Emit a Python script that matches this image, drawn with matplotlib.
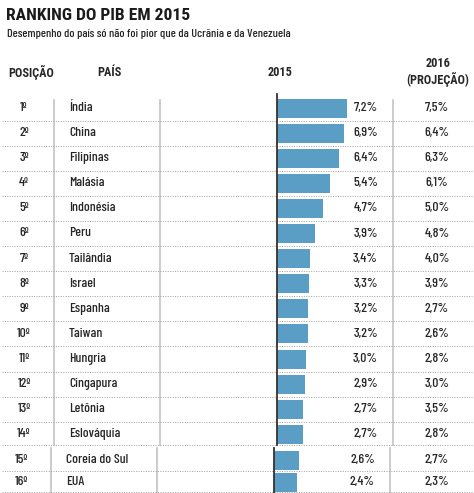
import matplotlib
matplotlib.use("Agg")
import matplotlib.pyplot as plt
from matplotlib import font_manager

# dados
posicoes = ["1º", "2º", "3º", "4º", "5º", "6º", "7º", "8º", "9º", "10º",
            "11º", "12º", "13º", "14º", "15º", "16º"]
paises = ["Índia", "China", "Filipinas", "Malásia", "Indonésia", "Peru",
          "Tailândia", "Israel", "Espanha", "Taiwan", "Hungria", "Cingapura",
          "Letônia", "Eslováquia", "Coreia do Sul", "EUA"]
pib_2015 = [7.2, 6.9, 6.4, 5.4, 4.7, 3.9, 3.4, 3.3, 3.2, 3.2, 3.0, 2.9,
            2.7, 2.7, 2.6, 2.4]
proj_2016 = [7.5, 6.4, 6.3, 6.1, 5.0, 4.8, 4.0, 3.9, 2.7, 2.6, 2.8, 3.0,
             3.5, 2.8, 2.7, 2.3]

# fontes condensadas, a primeira que existir
names = {f.name for f in font_manager.fontManager.ttflist}
fonte = next(c for c in ["Roboto Condensed", "Archivo Narrow", "DejaVu Sans"]
             if c in names)
estreita = next((c for c in ["Barlow Condensed", "Fira Sans Extra Condensed",
                             "Saira Extra Condensed"] if c in names), fonte)
plt.rcParams["font.family"] = [fonte, "DejaVu Sans"]
CORPO = [estreita, fonte, "DejaVu Sans"]

TXT = "#262626"
BAR = "#5a9ec6"
VGRID = "#c4c4c4"
DOT = "#a0a0a0"

W, H = 474, 493
fig = plt.figure(figsize=(W / 100, H / 100), dpi=100)
ax = fig.add_axes([0, 0, 1, 1])
ax.set_xlim(0, W)
ax.set_ylim(H, 0)
ax.axis("off")

# posicoes das linhas (layout)
ys = [108 + 25.1 * i for i in range(14)] + [460, 482]
PX_PCT = 9.75


def fmt(v):
    return f"{v:.1f}%".replace(".", ",")


# cabecalho
ax.text(6, 16, "RANKING DO PIB EM 2015", fontsize=12.6, fontweight="bold",
        color="#1a1a1a", va="center", ha="left")
ax.text(7, 34, "Desempenho do país só não foi pior que da Ucrânia e da Venezuela",
        fontsize=8.8, fontweight=500, color=TXT, va="center", ha="left",
        family=CORPO)
HS = 8.8
ax.text(8, 72, "POSIÇÃO", fontsize=HS, fontweight="bold", color=TXT, va="center")
ax.text(97, 72, "PAÍS", fontsize=HS, fontweight="bold", color=TXT, va="center")
ax.text(280, 72, "2015", fontsize=HS, fontweight="bold", color=TXT,
        va="center", ha="center")
ax.text(438, 72, "2016\n(PROJEÇÃO)", fontsize=HS, fontweight="bold", color=TXT,
        va="center", ha="center", linespacing=1.1)

# linhas verticais (dois blocos)
blocks = [(0, 14, 100, 445, 0), (14, 16, 448, 493, -3)]
BS = 9.8
for i0, i1, y0, y1, dx in blocks:
    for x in (54, 160, 393):
        ax.plot([x + dx, x + dx], [y0, y1], color=VGRID, lw=1.2, zorder=1)
    ax.plot([277 + dx, 277 + dx], [y0 - 6 if i0 == 0 else y0, y1],
            color="#333333", lw=1.3, zorder=3)

    rows = range(i0, i1)
    yy = [ys[i] for i in rows]
    ax.barh(yy, [pib_2015[i] * PX_PCT for i in rows], height=19,
            left=277 + dx, color=BAR, zorder=2)
    for i in rows:
        y = ys[i]
        kw = dict(fontsize=BS, fontweight=500, color=TXT, va="center",
                  family=CORPO)
        ax.text(24 + dx, y, posicoes[i], ha="center", **kw)
        ax.text(69 + dx, y, paises[i], ha="left", **kw)
        ax.text(378 + dx, y, fmt(pib_2015[i]), ha="right", **kw)
        ax.text(437, y, fmt(proj_2016[i]), ha="center", **kw)

# separadores pontilhados
seps = [(ys[i] + ys[i + 1]) / 2 for i in range(13)] + [445, 471, 492]
for y in seps:
    ax.plot([2, W], [y, y], color=DOT, lw=0.7, ls=(0, (1, 1.5)), zorder=1)

fig.savefig("out.png", dpi=100)
